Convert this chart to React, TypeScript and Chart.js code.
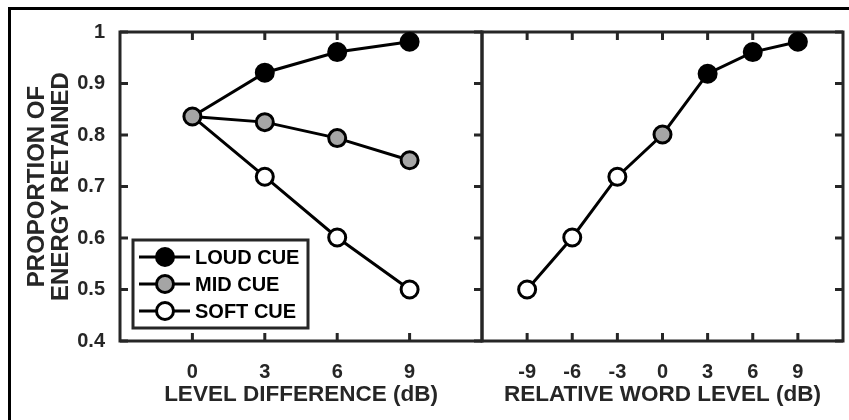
import React, { useEffect, useRef } from 'react';
import { Chart, registerables } from 'chart.js';

Chart.register(...registerables);

// ---- data ----
const levelDiff = [0, 3, 6, 9];
const loudCue = [0.836, 0.921, 0.961, 0.981];
const midCue = [0.836, 0.825, 0.794, 0.751];
const softCue = [0.836, 0.719, 0.601, 0.5];

const wordLevel = [-9, -6, -3, 0, 3, 6, 9];
const wordRetained = [0.5, 0.601, 0.719, 0.801, 0.919, 0.961, 0.981];
const wordCue = ['soft', 'soft', 'soft', 'mid', 'loud', 'loud', 'loud'];

const leftTicks = [0, 3, 6, 9];
const rightTicks = [-9, -6, -3, 0, 3, 6, 9];
const yTicks = [0.4, 0.5, 0.6, 0.7, 0.8, 0.9, 1];
const legendLabels = ['LOUD CUE', 'MID CUE', 'SOFT CUE'];
const legendCues = ['loud', 'mid', 'soft'];

const leftXTitle = 'LEVEL DIFFERENCE (dB)';
const rightXTitle = 'RELATIVE WORD LEVEL (dB)';
const yTitle = ['PROPORTION OF', 'ENERGY RETAINED'];

// ---- style ----
const FAMILY = '"Liberation Sans", Arial, Helvetica, sans-serif';
const AXIS = '#262626';
const TEXT = '#262626';
const CUE_FILL: Record<string, string> = { loud: '#000000', mid: '#a5a5a5', soft: '#ffffff' };
const PT_R = 8.5;
const PT_BW = 3;

function framePlugin(sides: { left: boolean; right: boolean; top: boolean; bottom: boolean }, legend: boolean) {
  return {
    id: 'frameAndLegend',
    beforeDatasetsDraw(chart: any) {
      const { ctx, chartArea: a } = chart;
      const xs = chart.scales.x;
      const ys = chart.scales.y;
      const tl = 8;
      ctx.save();
      ctx.strokeStyle = AXIS;
      ctx.lineWidth = 3;
      ctx.lineCap = 'butt';
      ctx.beginPath();
      ctx.rect(a.left, a.top, a.right - a.left, a.bottom - a.top);
      ctx.stroke();
      ctx.beginPath();
      xs.ticks.forEach((t: any) => {
        const px = xs.getPixelForValue(t.value);
        if (sides.top) { ctx.moveTo(px, a.top); ctx.lineTo(px, a.top + tl); }
        if (sides.bottom) { ctx.moveTo(px, a.bottom); ctx.lineTo(px, a.bottom - tl); }
      });
      yTicks.forEach((v) => {
        const py = ys.getPixelForValue(v);
        if (sides.left) { ctx.moveTo(a.left, py); ctx.lineTo(a.left + tl, py); }
        if (sides.right) { ctx.moveTo(a.right, py); ctx.lineTo(a.right - tl, py); }
      });
      ctx.stroke();
      ctx.restore();
    },
    afterDatasetsDraw(chart: any) {
      if (!legend) return;
      const { ctx, chartArea: a } = chart;
      const bx = a.left + 13;
      const bw = 175;
      const bh = 88;
      const by = a.bottom - 13 - bh;
      ctx.save();
      ctx.fillStyle = '#ffffff';
      ctx.fillRect(bx, by, bw, bh);
      ctx.strokeStyle = AXIS;
      ctx.lineWidth = 3;
      ctx.strokeRect(bx, by, bw, bh);
      ctx.font = `bold 20px ${FAMILY}`;
      ctx.textBaseline = 'middle';
      ctx.textAlign = 'left';
      legendLabels.forEach((lab, i) => {
        const cy = by + 17 + i * 27;
        ctx.strokeStyle = '#000';
        ctx.lineWidth = 3;
        ctx.beginPath();
        ctx.moveTo(bx + 6, cy);
        ctx.lineTo(bx + 57, cy);
        ctx.stroke();
        ctx.beginPath();
        ctx.arc(bx + 32, cy, PT_R, 0, Math.PI * 2);
        ctx.fillStyle = CUE_FILL[legendCues[i]];
        ctx.fill();
        ctx.stroke();
        ctx.fillStyle = '#000';
        ctx.fillText(lab, bx + 62, cy + 1);
      });
      ctx.restore();
    },
  };
}

const tickFont = { family: FAMILY, size: 20, weight: 'bold' as const };
const titleFont = { family: FAMILY, size: 22.5, weight: 'bold' as const };

function lineDataset(xs: number[], ys: number[], fill: (i: number) => string, radius: (i: number) => number, order: number) {
  return {
    data: xs.map((x, i) => ({ x, y: ys[i] })),
    borderColor: '#000',
    borderWidth: 3,
    pointRadius: (c: any) => radius(c.dataIndex),
    pointHoverRadius: (c: any) => radius(c.dataIndex),
    pointBorderWidth: PT_BW,
    pointBorderColor: '#000',
    pointBackgroundColor: (c: any) => fill(c.dataIndex),
    tension: 0,
    clip: false as const,
    order,
  };
}

const xFit = (s: any) => {
  s.height = 79;
  s.paddingLeft = 0;
  s.paddingRight = 0;
};

function LeftPanel() {
  const ref = useRef<HTMLCanvasElement>(null);
  useEffect(() => {
    const chart = new Chart(ref.current!, {
      type: 'line',
      data: {
        datasets: [
          lineDataset(levelDiff, loudCue, () => CUE_FILL.loud, (i) => (i === 0 ? 0 : PT_R), 3),
          lineDataset(levelDiff, softCue, () => CUE_FILL.soft, (i) => (i === 0 ? 0 : PT_R), 2),
          lineDataset(levelDiff, midCue, () => CUE_FILL.mid, () => PT_R, 1),
        ] as any,
      },
      options: {
        animation: false,
        responsive: false,
        devicePixelRatio: 1,
        layout: { autoPadding: false, padding: { left: 0, right: 8, top: 32, bottom: 0 } },
        plugins: { legend: { display: false }, tooltip: { enabled: false } },
        events: [],
        scales: {
          x: {
            type: 'linear',
            min: -3,
            max: 12,
            afterBuildTicks: (s: any) => { s.ticks = leftTicks.map((v) => ({ value: v })); },
            afterFit: xFit,
            ticks: { font: tickFont, color: TEXT, padding: 11, maxRotation: 0, autoSkip: false, callback: (v: any) => String(v) },
            grid: { display: false },
            border: { display: false },
            title: { display: true, text: leftXTitle, font: titleFont, color: TEXT, padding: { top: 0, bottom: 12 } },
          },
          y: {
            type: 'linear',
            min: 0.4,
            max: 1,
            afterBuildTicks: (s: any) => { s.ticks = yTicks.map((v) => ({ value: v })); },
            afterFit: (s: any) => { s.width = 120; s.paddingTop = 0; s.paddingBottom = 0; },
            ticks: { font: tickFont, color: TEXT, padding: 7, callback: (v: any) => String(v) },
            grid: { display: false },
            border: { display: false },
            title: { display: true, text: yTitle, font: { family: FAMILY, size: 24, weight: 'bold', lineHeight: 1.0 }, color: TEXT, padding: { top: 25, bottom: 0 } },
          },
        },
      } as any,
      plugins: [framePlugin({ left: true, right: true, top: true, bottom: true }, true)],
    });
    return () => chart.destroy();
  }, []);
  return <canvas ref={ref} width={490} height={420} style={{ position: 'absolute', left: 0, top: 0, width: 490, height: 420 }} />;
}

function RightPanel() {
  const ref = useRef<HTMLCanvasElement>(null);
  useEffect(() => {
    const chart = new Chart(ref.current!, {
      type: 'line',
      data: {
        datasets: [
          lineDataset(wordLevel, wordRetained, (i) => CUE_FILL[wordCue[i]], () => PT_R, 1),
        ] as any,
      },
      options: {
        animation: false,
        responsive: false,
        devicePixelRatio: 1,
        layout: { autoPadding: false, padding: { left: 12, right: 0, top: 32, bottom: 0 } },
        plugins: { legend: { display: false }, tooltip: { enabled: false } },
        events: [],
        scales: {
          x: {
            type: 'linear',
            min: -12,
            max: 12,
            afterBuildTicks: (s: any) => { s.ticks = rightTicks.map((v) => ({ value: v })); },
            afterFit: xFit,
            ticks: { font: tickFont, color: TEXT, padding: 11, maxRotation: 0, autoSkip: false, callback: (v: any) => String(v) },
            grid: { display: false },
            border: { display: false },
            title: { display: true, text: rightXTitle, font: titleFont, color: TEXT, padding: { top: 0, bottom: 12 } },
          },
          y: {
            type: 'linear',
            position: 'right',
            min: 0.4,
            max: 1,
            ticks: { display: false },
            grid: { display: false },
            border: { display: false },
            afterFit: (s: any) => { s.width = 6; s.paddingTop = 0; s.paddingBottom = 0; },
          },
        },
      } as any,
      plugins: [framePlugin({ left: false, right: true, top: true, bottom: true }, false)],
    });
    return () => chart.destroy();
  }, []);
  return <canvas ref={ref} width={379} height={420} style={{ position: 'absolute', left: 470, top: 0, width: 379, height: 420 }} />;
}

export default function App() {
  return (
    <div style={{ position: 'fixed', left: 0, top: 0, width: 849, height: 420, overflow: 'hidden', background: '#fff' }}>
      <div style={{ position: 'absolute', left: 8, top: 7, width: 900, height: 500, borderLeft: '3px solid #000', borderTop: '3px solid #000' }} />
      <LeftPanel />
      <RightPanel />
    </div>
  );
}
